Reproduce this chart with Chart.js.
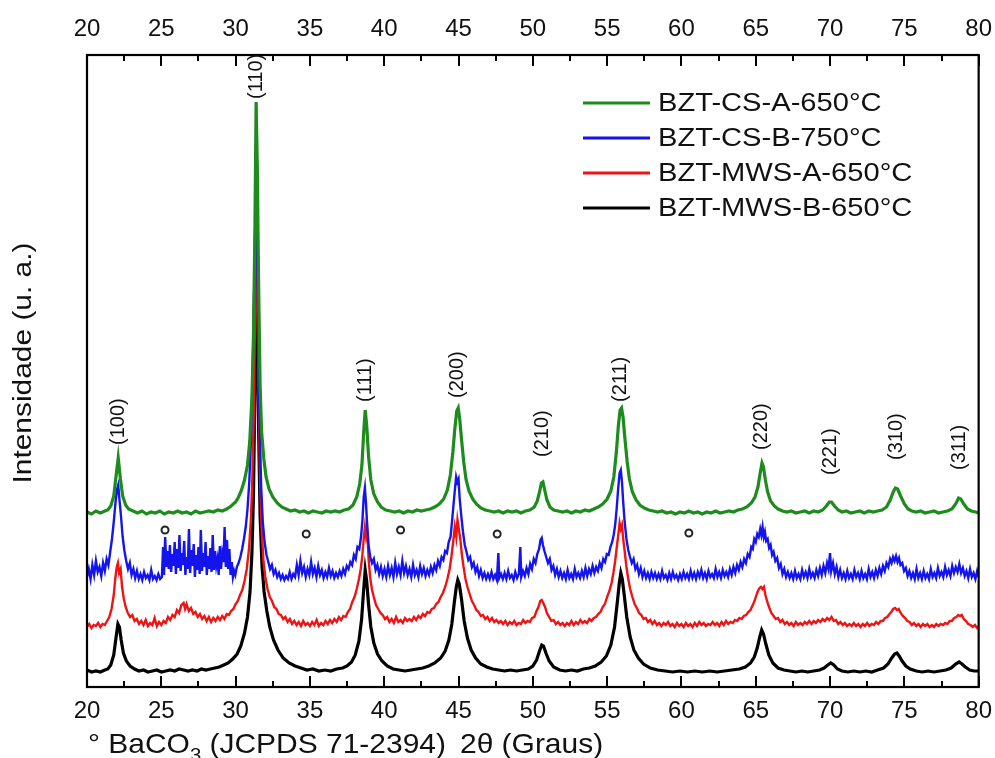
<!DOCTYPE html>
<html>
<head>
<meta charset="utf-8">
<script src="https://cdn.jsdelivr.net/npm/chart.js@4.4.0/dist/chart.umd.min.js"></script>
<style>
  html, body { margin: 0; padding: 0; background: #fff; }
  #wrap { width: 995px; height: 758px; }
</style>
</head>
<body>
<div id="wrap"><canvas id="xrd" width="995" height="758"></canvas></div>
<script>
// [2θ (deg), intensity (a.u.)] - patterns already shifted up so they stack
const csA650 = [
  [20.0,175],[20.3,173],[20.6,176],[20.9,174],[21.2,176],[21.4,177],[21.6,181],[21.8,191],[21.95,210],[22.1,229],
  [22.25,208],[22.4,191],[22.6,182],[22.8,178],[23.1,176],[23.4,174],[23.7,176],[24.0,173],[24.3,175],[24.6,174],
  [24.9,176],[25.2,173],[25.5,175],[25.8,174],[26.1,176],[26.4,174],[26.7,175],[27.0,173],[27.3,176],[27.6,174],
  [27.9,175],[28.2,176],[28.5,175],[28.8,177],[29.1,176],[29.4,178],[29.7,181],[30.0,185],[30.2,190],[30.4,197],
  [30.6,207],[30.8,222],[30.95,245],[31.1,290],[31.2,350],[31.3,460],[31.38,585],[31.46,520],[31.55,400],[31.65,300],
  [31.75,255],[31.9,228],[32.05,210],[32.25,198],[32.5,190],[32.8,184],[33.1,180],[33.4,178],[33.7,176],[34.0,177],
  [34.3,175],[34.6,176],[34.9,174],[35.2,176],[35.5,175],[35.8,174],[36.1,176],[36.4,175],[36.7,176],[37.0,175],
  [37.3,177],[37.6,178],[37.9,182],[38.15,190],[38.35,203],[38.5,222],[38.62,255],[38.72,277],[38.82,262],[38.95,230],
  [39.1,207],[39.3,193],[39.55,185],[39.8,180],[40.1,177],[40.4,176],[40.7,175],[41.0,176],[41.3,174],[41.6,176],
  [41.9,175],[42.2,177],[42.5,176],[42.8,177],[43.1,178],[43.4,180],[43.7,183],[44.0,188],[44.25,197],[44.45,212],
  [44.62,235],[44.75,258],[44.88,276],[44.98,279],[45.08,268],[45.2,248],[45.35,225],[45.5,208],[45.7,196],[45.95,188],
  [46.2,183],[46.5,179],[46.8,177],[47.1,176],[47.4,175],[47.7,176],[48.0,174],[48.3,176],[48.6,175],[48.9,176],
  [49.2,174],[49.5,176],[49.8,177],[50.1,180],[50.3,186],[50.45,195],[50.58,204],[50.68,205],[50.8,197],[50.95,187],
  [51.15,180],[51.4,177],[51.7,176],[52.0,175],[52.3,176],[52.6,174],[52.9,176],[53.2,175],[53.5,177],[53.8,176],
  [54.1,178],[54.4,180],[54.7,183],[55.0,188],[55.25,196],[55.45,210],[55.62,235],[55.75,260],[55.87,277],[55.97,279],
  [56.07,270],[56.2,248],[56.35,225],[56.5,208],[56.7,195],[56.95,187],[57.2,182],[57.5,179],[57.8,177],[58.1,176],
  [58.4,175],[58.7,176],[59.0,174],[59.3,175],[59.6,173],[59.9,175],[60.2,174],[60.5,176],[60.8,174],[61.1,175],
  [61.4,173],[61.7,175],[62.0,174],[62.3,176],[62.6,174],[62.9,175],[63.2,176],[63.5,175],[63.8,177],[64.1,178],
  [64.4,180],[64.7,184],[64.95,190],[65.15,200],[65.3,214],[65.42,224],[65.52,220],[65.65,207],[65.8,195],[66.0,186],
  [66.25,181],[66.5,178],[66.8,176],[67.1,175],[67.4,176],[67.7,174],[68.0,175],[68.3,176],[68.6,174],[68.9,176],
  [69.2,175],[69.5,177],[69.75,181],[69.95,185],[70.1,185],[70.3,181],[70.55,177],[70.8,175],[71.1,176],[71.4,174],
  [71.7,175],[72.0,176],[72.3,174],[72.6,176],[72.9,175],[73.2,176],[73.5,177],[73.8,180],[74.05,187],[74.25,195],
  [74.4,199],[74.55,198],[74.75,191],[75.0,183],[75.25,178],[75.5,176],[75.8,175],[76.1,176],[76.4,174],[76.7,175],
  [77.0,176],[77.3,174],[77.6,175],[77.9,176],[78.2,178],[78.45,183],[78.65,189],[78.8,188],[79.0,183],[79.25,178],
  [79.5,176],[79.8,175],[80.0,174]
];

const csB750 = [
  [20.0,110],[20.12,118],[20.24,108],[20.36,122],[20.48,112],[20.6,126],[20.72,115],[20.84,120],[20.96,111],[21.08,124],
  [21.2,116],[21.32,128],[21.44,122],[21.56,135],[21.68,148],[21.8,165],[21.92,185],[22.02,198],[22.1,202],[22.18,188],
  [22.28,172],[22.4,150],[22.52,136],[22.64,126],[22.76,118],[22.88,124],[23.0,112],[23.12,118],[23.24,109],[23.36,116],
  [23.48,108],[23.6,113],[23.72,107],[23.84,115],[23.96,109],[24.08,112],[24.2,107],[24.32,117],[24.44,108],[24.56,111],
  [24.68,107],[24.8,113],[24.92,108],[25.04,110],[25.12,140],[25.18,112],[25.26,150],[25.34,120],[25.42,136],[25.5,118],
  [25.58,142],[25.66,115],[25.74,133],[25.82,121],[25.9,145],[25.98,113],[26.06,138],[26.14,119],[26.22,152],[26.3,116],
  [26.38,134],[26.46,122],[26.54,146],[26.62,112],[26.7,130],[26.78,118],[26.86,158],[26.94,114],[27.02,137],[27.1,121],
  [27.18,143],[27.26,110],[27.34,132],[27.42,117],[27.5,140],[27.58,113],[27.66,157],[27.74,116],[27.82,134],[27.9,120],
  [27.98,145],[28.06,112],[28.14,131],[28.22,118],[28.3,139],[28.38,115],[28.46,152],[28.54,117],[28.62,136],[28.7,121],
  [28.78,128],[28.86,112],[28.94,141],[29.02,118],[29.1,133],[29.18,125],[29.26,160],[29.34,120],[29.42,147],[29.5,118],
  [29.58,138],[29.66,112],[29.74,125],[29.82,110],[29.9,116],[29.98,112],[30.08,120],[30.2,124],[30.32,130],[30.44,138],
  [30.56,148],[30.68,160],[30.8,178],[30.92,205],[31.04,250],[31.14,310],[31.24,390],[31.32,460],[31.38,490],[31.45,440],
  [31.53,350],[31.62,260],[31.72,200],[31.83,165],[31.95,145],[32.08,132],[32.2,125],[32.32,118],[32.44,122],[32.56,113],
  [32.68,117],[32.8,110],[32.92,114],[33.04,108],[33.16,112],[33.28,107],[33.4,111],[33.52,108],[33.64,115],[33.76,108],
  [33.88,113],[34.0,110],[34.12,122],[34.24,112],[34.36,126],[34.48,114],[34.6,120],[34.72,110],[34.84,118],[34.96,112],
  [35.08,125],[35.2,113],[35.32,119],[35.44,110],[35.56,121],[35.68,112],[35.8,117],[35.92,109],[36.04,115],[36.16,110],
  [36.28,119],[36.4,111],[36.52,116],[36.64,109],[36.76,114],[36.88,110],[37.0,116],[37.12,111],[37.24,118],[37.36,113],
  [37.48,121],[37.6,118],[37.72,125],[37.84,122],[37.96,132],[38.08,128],[38.2,140],[38.32,138],[38.44,150],[38.54,168],
  [38.62,190],[38.7,199],[38.78,182],[38.86,160],[38.96,140],[39.06,130],[39.18,124],[39.3,128],[39.42,117],[39.54,122],
  [39.66,113],[39.78,120],[39.9,111],[40.02,118],[40.14,110],[40.26,121],[40.38,112],[40.5,119],[40.62,110],[40.74,124],
  [40.86,113],[40.98,120],[41.1,112],[41.22,126],[41.34,114],[41.46,121],[41.58,112],[41.7,118],[41.82,110],[41.94,122],
  [42.06,112],[42.18,117],[42.3,110],[42.42,121],[42.54,113],[42.66,119],[42.78,111],[42.9,117],[43.02,112],[43.14,120],
  [43.26,114],[43.38,122],[43.5,117],[43.62,126],[43.74,121],[43.86,130],[43.98,127],[44.1,136],[44.22,134],[44.34,145],
  [44.46,150],[44.56,165],[44.66,182],[44.76,198],[44.84,210],[44.92,205],[45.0,208],[45.08,188],[45.18,172],[45.3,155],
  [45.42,142],[45.54,135],[45.66,127],[45.78,130],[45.9,120],[46.02,124],[46.14,115],[46.26,120],[46.38,111],[46.5,117],
  [46.62,109],[46.74,114],[46.86,108],[46.98,113],[47.1,108],[47.22,115],[47.34,108],[47.46,112],[47.58,107],[47.68,134],
  [47.74,109],[47.86,113],[47.98,108],[48.1,114],[48.22,108],[48.34,116],[48.46,109],[48.58,112],[48.7,107],[48.82,115],
  [48.94,109],[49.06,113],[49.16,140],[49.22,110],[49.34,116],[49.46,111],[49.58,119],[49.7,113],[49.82,123],[49.94,118],
  [50.06,128],[50.18,124],[50.3,133],[50.42,138],[50.52,147],[50.6,149],[50.68,142],[50.78,136],[50.9,130],[51.02,124],
  [51.14,128],[51.26,117],[51.38,121],[51.5,112],[51.62,118],[51.74,110],[51.86,116],[51.98,109],[52.1,114],[52.22,108],
  [52.34,117],[52.46,109],[52.58,113],[52.7,108],[52.82,118],[52.94,110],[53.06,114],[53.18,109],[53.3,116],[53.42,110],
  [53.54,119],[53.66,111],[53.78,118],[53.9,113],[54.02,121],[54.14,114],[54.26,120],[54.38,116],[54.5,124],[54.62,119],
  [54.74,128],[54.86,125],[54.98,133],[55.1,132],[55.22,140],[55.34,145],[55.44,152],[55.54,162],[55.64,178],[55.74,198],
  [55.84,214],[55.92,217],[56.0,205],[56.08,185],[56.18,165],[56.3,148],[56.42,137],[56.54,130],[56.66,124],[56.78,128],
  [56.9,118],[57.02,122],[57.14,113],[57.26,119],[57.38,110],[57.5,116],[57.62,109],[57.74,114],[57.86,108],[57.98,115],
  [58.1,109],[58.22,114],[58.34,108],[58.46,113],[58.58,108],[58.7,116],[58.82,109],[58.94,112],[59.06,107],[59.18,114],
  [59.3,108],[59.42,115],[59.54,109],[59.66,112],[59.78,107],[59.9,113],[60.02,108],[60.14,115],[60.26,109],[60.38,113],
  [60.5,108],[60.62,116],[60.74,109],[60.86,114],[60.98,108],[61.1,115],[61.22,110],[61.34,117],[61.46,109],[61.58,114],
  [61.7,108],[61.82,116],[61.94,110],[62.06,113],[62.18,109],[62.3,118],[62.42,110],[62.54,115],[62.66,109],[62.78,117],
  [62.9,111],[63.02,115],[63.14,110],[63.26,118],[63.38,112],[63.5,120],[63.62,114],[63.74,122],[63.86,117],[63.98,125],
  [64.1,120],[64.22,128],[64.34,124],[64.46,133],[64.58,130],[64.7,140],[64.8,138],[64.9,148],[65.0,145],[65.1,153],
  [65.2,150],[65.3,158],[65.38,152],[65.46,160],[65.54,150],[65.62,155],[65.7,146],[65.8,148],[65.9,139],[66.0,142],
  [66.1,132],[66.2,135],[66.32,126],[66.44,129],[66.56,119],[66.68,123],[66.8,113],[66.92,118],[67.04,110],[67.16,115],
  [67.28,109],[67.4,114],[67.52,108],[67.64,116],[67.76,109],[67.88,113],[68.0,108],[68.12,117],[68.24,110],[68.36,115],
  [68.48,109],[68.6,118],[68.72,110],[68.84,114],[68.96,109],[69.08,117],[69.2,111],[69.32,119],[69.44,112],[69.56,121],
  [69.68,114],[69.8,124],[69.9,118],[70.0,134],[70.08,116],[70.2,124],[70.32,113],[70.44,120],[70.56,110],[70.68,117],
  [70.8,109],[70.92,114],[71.04,108],[71.16,116],[71.28,109],[71.4,113],[71.52,108],[71.64,117],[71.76,110],[71.88,114],
  [72.0,108],[72.12,116],[72.24,109],[72.36,113],[72.48,108],[72.6,118],[72.72,110],[72.84,115],[72.96,109],[73.08,117],
  [73.2,111],[73.32,119],[73.44,113],[73.56,121],[73.68,116],[73.8,124],[73.92,120],[74.04,128],[74.14,124],[74.24,130],
  [74.34,126],[74.44,131],[74.54,125],[74.64,129],[74.74,122],[74.86,124],[74.98,116],[75.1,119],[75.22,111],[75.34,116],
  [75.46,109],[75.58,114],[75.7,108],[75.82,118],[75.94,109],[76.06,114],[76.18,108],[76.3,116],[76.42,109],[76.54,113],
  [76.66,108],[76.78,118],[76.9,110],[77.02,114],[77.14,109],[77.26,119],[77.38,111],[77.5,115],[77.62,110],[77.74,120],
  [77.86,112],[77.98,117],[78.1,111],[78.22,121],[78.34,114],[78.46,120],[78.58,115],[78.7,123],[78.82,114],[78.94,119],
  [79.06,111],[79.18,116],[79.3,109],[79.42,118],[79.54,110],[79.66,114],[79.78,108],[79.9,116],[80.0,110]
];

const mwsA650 = [
  [20.0,60],[20.15,63],[20.3,59],[20.45,62],[20.6,61],[20.75,64],[20.9,60],[21.05,63],[21.2,62],[21.35,66],
  [21.5,70],[21.65,78],[21.8,92],[21.9,108],[22.0,120],[22.08,124],[22.16,114],[22.26,118],[22.36,100],[22.48,88],
  [22.6,80],[22.75,74],[22.9,70],[23.05,72],[23.2,66],[23.35,68],[23.5,63],[23.65,66],[23.8,62],[23.95,67],
  [24.1,61],[24.25,64],[24.4,62],[24.55,69],[24.7,61],[24.85,65],[25.0,62],[25.15,66],[25.3,64],[25.45,70],
  [25.6,67],[25.75,72],[25.9,70],[26.05,77],[26.2,74],[26.35,82],[26.5,84],[26.6,78],[26.7,83],[26.85,76],
  [27.0,79],[27.15,73],[27.3,75],[27.45,70],[27.6,73],[27.75,68],[27.9,71],[28.05,66],[28.2,70],[28.35,65],
  [28.5,69],[28.65,66],[28.8,70],[28.95,67],[29.1,71],[29.25,68],[29.4,73],[29.55,72],[29.7,76],[29.85,78],
  [30.0,83],[30.15,86],[30.3,92],[30.45,97],[30.6,106],[30.75,118],[30.9,138],[31.02,165],[31.12,205],[31.22,270],
  [31.3,360],[31.38,460],[31.46,395],[31.55,290],[31.65,205],[31.76,155],[31.88,125],[32.0,110],[32.15,98],[32.3,90],
  [32.45,86],[32.6,80],[32.75,78],[32.9,73],[33.05,72],[33.2,68],[33.35,70],[33.5,65],[33.65,68],[33.8,63],
  [33.95,66],[34.1,62],[34.25,65],[34.4,61],[34.55,66],[34.7,62],[34.85,64],[35.0,61],[35.15,65],[35.3,62],
  [35.45,67],[35.6,61],[35.75,64],[35.9,62],[36.05,66],[36.2,63],[36.35,67],[36.5,64],[36.65,68],[36.8,65],
  [36.95,70],[37.1,67],[37.25,71],[37.4,70],[37.55,75],[37.7,78],[37.85,85],[38.0,90],[38.15,98],[38.3,108],
  [38.42,118],[38.52,130],[38.62,148],[38.7,160],[38.78,150],[38.86,156],[38.95,128],[39.05,110],[39.18,97],[39.3,90],
  [39.45,82],[39.6,78],[39.75,74],[39.9,72],[40.05,68],[40.2,70],[40.35,65],[40.5,68],[40.65,64],[40.8,70],
  [40.95,65],[41.1,67],[41.25,64],[41.4,69],[41.55,66],[41.7,68],[41.85,66],[42.0,70],[42.15,67],[42.3,71],
  [42.45,69],[42.6,73],[42.75,71],[42.9,75],[43.05,74],[43.2,78],[43.35,79],[43.5,83],[43.65,85],[43.8,90],
  [43.95,94],[44.1,100],[44.25,108],[44.4,118],[44.52,130],[44.64,145],[44.75,160],[44.85,150],[44.93,167],[45.02,158],
  [45.12,148],[45.22,133],[45.34,120],[45.47,108],[45.6,100],[45.75,93],[45.9,86],[46.05,82],[46.2,77],[46.35,75],
  [46.5,71],[46.65,72],[46.8,68],[46.95,70],[47.1,66],[47.25,69],[47.4,65],[47.55,67],[47.7,64],[47.85,66],
  [48.0,63],[48.15,66],[48.3,62],[48.45,65],[48.6,63],[48.75,66],[48.9,62],[49.05,64],[49.2,63],[49.35,67],
  [49.5,64],[49.65,66],[49.8,65],[49.95,69],[50.1,70],[50.25,76],[50.38,80],[50.5,86],[50.6,87],[50.7,84],
  [50.82,80],[50.95,74],[51.1,70],[51.25,66],[51.4,67],[51.55,63],[51.7,65],[51.85,62],[52.0,64],[52.15,61],
  [52.3,64],[52.45,62],[52.6,66],[52.75,62],[52.9,65],[53.05,63],[53.2,67],[53.35,64],[53.5,66],[53.65,64],
  [53.8,68],[53.95,66],[54.1,69],[54.25,70],[54.4,73],[54.55,75],[54.7,80],[54.85,83],[55.0,90],[55.15,96],
  [55.3,104],[55.42,114],[55.54,126],[55.65,140],[55.75,152],[55.84,164],[55.92,158],[56.0,162],[56.08,148],[56.18,136],
  [56.3,120],[56.42,108],[56.55,98],[56.7,90],[56.85,83],[57.0,79],[57.15,74],[57.3,72],[57.45,68],[57.6,69],
  [57.75,65],[57.9,67],[58.05,63],[58.2,66],[58.35,62],[58.5,64],[58.65,61],[58.8,64],[58.95,62],[59.1,65],
  [59.25,61],[59.4,63],[59.55,60],[59.7,64],[59.85,61],[60.0,63],[60.15,60],[60.3,64],[60.45,61],[60.6,63],
  [60.75,60],[60.9,64],[61.05,61],[61.2,65],[61.35,62],[61.5,64],[61.65,61],[61.8,63],[61.95,62],[62.1,65],
  [62.25,62],[62.4,64],[62.55,61],[62.7,65],[62.85,62],[63.0,66],[63.15,63],[63.3,65],[63.45,64],[63.6,67],
  [63.75,66],[63.9,69],[64.05,68],[64.2,71],[64.35,72],[64.5,75],[64.65,77],[64.8,82],[64.92,86],[65.05,92],
  [65.15,96],[65.25,99],[65.35,100],[65.45,98],[65.55,100],[65.65,92],[65.78,85],[65.92,79],[66.05,74],[66.2,71],
  [66.35,68],[66.5,69],[66.65,65],[66.8,67],[66.95,63],[67.1,65],[67.25,62],[67.4,64],[67.55,61],[67.7,65],
  [67.85,62],[68.0,64],[68.15,62],[68.3,65],[68.45,63],[68.6,66],[68.75,63],[68.9,66],[69.05,64],[69.2,67],
  [69.35,65],[69.5,68],[69.65,66],[69.8,69],[69.95,67],[70.1,70],[70.25,66],[70.4,67],[70.55,63],[70.7,65],
  [70.85,62],[71.0,64],[71.15,61],[71.3,63],[71.45,61],[71.6,64],[71.75,61],[71.9,63],[72.05,60],[72.2,63],
  [72.35,61],[72.5,64],[72.65,61],[72.8,63],[72.95,62],[73.1,65],[73.25,63],[73.4,66],[73.55,66],[73.7,69],
  [73.85,70],[74.0,73],[74.12,75],[74.25,78],[74.38,79],[74.5,77],[74.62,78],[74.75,74],[74.9,71],[75.05,69],
  [75.2,66],[75.35,65],[75.5,62],[75.65,64],[75.8,61],[75.95,63],[76.1,60],[76.25,63],[76.4,61],[76.55,63],
  [76.7,60],[76.85,62],[77.0,60],[77.15,63],[77.3,61],[77.45,63],[77.6,62],[77.75,64],[77.9,63],[78.05,66],
  [78.2,66],[78.35,69],[78.5,70],[78.62,72],[78.74,71],[78.86,72],[79.0,68],[79.15,66],[79.3,63],[79.45,62],
  [79.6,60],[79.75,62],[79.9,59],[80.0,61]
];

const mwsB650 = [
  [20.0,17],[20.3,15],[20.6,16],[20.9,15],[21.2,17],[21.4,18],[21.6,22],[21.8,32],[21.95,49],[22.08,63],
  [22.18,60],[22.3,47],[22.45,34],[22.65,26],[22.9,21],[23.2,18],[23.5,16],[23.8,17],[24.1,15],[24.4,16],
  [24.7,17],[25.0,15],[25.3,16],[25.6,17],[25.9,16],[26.2,18],[26.5,17],[26.8,16],[27.1,17],[27.4,16],
  [27.7,18],[28.0,17],[28.3,18],[28.6,19],[28.9,20],[29.2,22],[29.5,24],[29.8,28],[30.1,33],[30.35,41],
  [30.6,54],[30.8,70],[30.97,95],[31.1,135],[31.2,190],[31.3,300],[31.38,425],[31.46,370],[31.55,255],[31.65,170],
  [31.78,120],[31.92,95],[32.1,76],[32.3,60],[32.55,47],[32.85,37],[33.2,29],[33.6,24],[34.0,21],[34.4,19],
  [34.8,17],[35.2,18],[35.6,16],[36.0,17],[36.4,16],[36.8,18],[37.2,19],[37.5,21],[37.8,25],[38.05,32],
  [38.3,46],[38.48,68],[38.62,98],[38.72,117],[38.82,106],[38.95,82],[39.1,60],[39.3,44],[39.55,33],[39.85,26],
  [40.2,21],[40.6,18],[41.0,17],[41.4,16],[41.8,17],[42.2,18],[42.6,19],[43.0,21],[43.4,24],[43.8,29],
  [44.1,36],[44.35,47],[44.55,63],[44.72,85],[44.85,100],[44.95,107],[45.05,103],[45.2,88],[45.38,66],[45.6,49],
  [45.85,37],[46.15,29],[46.5,23],[46.9,20],[47.3,18],[47.7,17],[48.1,16],[48.5,17],[48.9,16],[49.3,17],
  [49.7,18],[50.0,21],[50.25,27],[50.45,36],[50.6,42],[50.72,41],[50.88,34],[51.1,26],[51.4,20],[51.8,17],
  [52.2,16],[52.6,17],[53.0,16],[53.4,18],[53.8,19],[54.2,21],[54.6,25],[54.95,31],[55.25,42],[55.5,60],
  [55.68,84],[55.82,104],[55.92,114],[56.02,108],[56.15,92],[56.32,70],[56.55,50],[56.8,37],[57.1,29],[57.45,23],
  [57.9,19],[58.4,17],[58.9,16],[59.4,15],[59.9,16],[60.4,15],[60.9,16],[61.4,15],[61.9,16],[62.4,15],
  [62.9,16],[63.4,17],[63.9,18],[64.3,20],[64.65,24],[64.9,30],[65.1,39],[65.27,50],[65.4,57],[65.52,53],
  [65.68,43],[65.88,32],[66.15,24],[66.5,19],[66.9,17],[67.3,16],[67.7,15],[68.1,16],[68.5,15],[68.9,16],
  [69.3,17],[69.6,19],[69.85,22],[70.05,24],[70.25,22],[70.5,18],[70.8,16],[71.2,15],[71.6,16],[72.0,15],
  [72.4,16],[72.8,15],[73.2,17],[73.6,19],[73.9,23],[74.15,29],[74.35,33],[74.5,34],[74.65,31],[74.85,26],
  [75.1,21],[75.4,18],[75.8,16],[76.2,15],[76.6,16],[77.0,15],[77.4,16],[77.8,17],[78.15,19],[78.45,23],
  [78.68,25],[78.88,23],[79.1,20],[79.4,17],[79.7,16],[80.0,16]
];

const seriesNames = ['BZT-CS-A-650°C', 'BZT-CS-B-750°C', 'BZT-MWS-A-650°C', 'BZT-MWS-B-650°C'];
const seriesColors = ['#1d8c1d', '#1414ee', '#ee1414', '#000000'];

// BaCO3 reflections (JCPDS 71-2394) marked over the CS-B pattern
const baco3Pos = [25.25, 34.75, 41.1, 47.6, 60.5];
const baco3Y = [157, 153, 157, 153, 154];

// perovskite reflections: index, 2θ, height where the label starts
const hklNames = ['(100)', '(110)', '(111)', '(200)', '(210)', '(211)', '(220)', '(221)', '(310)', '(311)'];
const hklPos = [22.1, 31.38, 38.72, 44.95, 50.62, 55.92, 65.42, 70.05, 74.45, 78.7];
const hklY = [242, 588, 285, 289, 230, 285, 237, 212, 227, 217];

const FONT = '"Liberation Sans", Arial, Helvetica, sans-serif';

const toXY = pts => pts.map(p => ({ x: p[0], y: p[1] }));
const patterns = [csA650, csB750, mwsA650, mwsB650];

const datasets = [{
  label: 'BaCO3',
  data: baco3Pos.map((x, i) => ({ x: x, y: baco3Y[i] })),
  showLine: false,
  pointRadius: 3.5,
  pointBorderWidth: 2,
  pointBorderColor: '#222',
  pointBackgroundColor: '#fff',
  inLegend: false
}];
patterns.forEach((pts, i) => {
  datasets.push({
    label: seriesNames[i],
    data: toXY(pts),
    borderColor: seriesColors[i],
    borderWidth: i === 0 || i === 3 ? 3.2 : 2.4,
    pointRadius: 0,
    tension: 0,
    inLegend: true
  });
});

// text a little wider than the stock face, stretched along its own direction
function wideText(ctx, text, x, y, sx) {
  ctx.save();
  ctx.translate(x, y);
  ctx.scale(sx, 1);
  ctx.fillText(text, 0, 0);
  ctx.restore();
  return ctx.measureText(text).width * sx;
}

// box round the plot with inward ticks top and bottom
const frame = {
  id: 'frame',
  afterDatasetsDraw(chart) {
    const { ctx, chartArea: a } = chart;
    const x = chart.scales.x;
    ctx.save();
    ctx.strokeStyle = '#000';
    ctx.lineWidth = 2.2;
    ctx.strokeRect(a.left, a.top, a.right - a.left, a.bottom - a.top);
    ctx.lineWidth = 2;
    ctx.beginPath();
    x.ticks.forEach((t, i) => {
      const marks = [[t.value, 11]];
      if (i < x.ticks.length - 1) marks.push([t.value + 2.5, 6]);
      marks.forEach(([v, len]) => {
        const px = Math.round(x.getPixelForValue(v));
        ctx.moveTo(px, a.bottom); ctx.lineTo(px, a.bottom - len);
        ctx.moveTo(px, a.top); ctx.lineTo(px, a.top + len);
      });
    });
    ctx.stroke();
    ctx.restore();
  }
};

// miller indices, legend, axis captions
const annotations = {
  id: 'annotations',
  afterDraw(chart) {
    const { ctx, chartArea: a, scales } = chart;
    ctx.save();
    ctx.fillStyle = '#111';

    ctx.font = '20px ' + FONT;
    ctx.textAlign = 'left';
    ctx.textBaseline = 'middle';
    hklNames.forEach((name, i) => {
      ctx.save();
      ctx.translate(scales.x.getPixelForValue(hklPos[i]), scales.y.getPixelForValue(hklY[i]));
      ctx.rotate(-Math.PI / 2);
      ctx.fillText(name, 0, 0);
      ctx.restore();
    });

    // legend
    ctx.font = '26px ' + FONT;
    chart.data.datasets.filter(d => d.inLegend).forEach((d, i) => {
      const y = 103 + i * 35;
      ctx.strokeStyle = d.borderColor;
      ctx.lineWidth = 3;
      ctx.beginPath();
      ctx.moveTo(583, y);
      ctx.lineTo(650, y);
      ctx.stroke();
      wideText(ctx, d.label, 658, y + 1, 1.12);
    });

    // y title
    ctx.save();
    ctx.translate(24, (a.top + a.bottom) / 2 - 8);
    ctx.rotate(-Math.PI / 2);
    ctx.font = '26px ' + FONT;
    const tw = ctx.measureText('Intensidade (u. a.)').width * 1.15;
    wideText(ctx, 'Intensidade (u. a.)', -tw / 2, 0, 1.15);
    ctx.restore();

    // x caption with subscript
    ctx.textBaseline = 'alphabetic';
    let cx = 88;
    const base = 753;
    ctx.font = '28px ' + FONT;
    cx += wideText(ctx, '° BaCO', cx, base, 1.07);
    ctx.font = '19px ' + FONT;
    cx += wideText(ctx, '3', cx, base + 8, 1.07);
    ctx.font = '28px ' + FONT;
    cx += wideText(ctx, ' (JCPDS 71-2394)', cx, base, 1.07) + 14;
    wideText(ctx, '2θ (Graus)', cx, base, 1.07);
    ctx.restore();
  }
};

const tickFont = { family: FONT, size: 24 };

new Chart(document.getElementById('xrd').getContext('2d'), {
  type: 'line',
  data: { datasets: datasets },
  options: {
    responsive: false,
    animation: false,
    events: [],
    layout: { padding: { left: 0, right: 7, top: 0, bottom: 0 } },
    plugins: { legend: { display: false }, tooltip: { enabled: false } },
    scales: {
      x: {
        type: 'linear',
        position: 'bottom',
        min: 20,
        max: 80,
        ticks: { stepSize: 5, font: tickFont, color: '#111', padding: 2, maxRotation: 0 },
        grid: { display: false },
        border: { display: false },
        afterFit: s => { s.height = 71; }
      },
      xTop: {
        type: 'linear',
        position: 'top',
        min: 20,
        max: 80,
        ticks: { stepSize: 5, font: tickFont, color: '#111', padding: 3, maxRotation: 0 },
        grid: { display: false },
        border: { display: false },
        afterFit: s => { s.height = 55; }
      },
      y: {
        min: 0,
        max: 632,
        ticks: { display: false },
        grid: { display: false },
        border: { display: false },
        afterFit: s => { s.width = 87; }
      }
    }
  },
  plugins: [frame, annotations]
});
</script>
</body>
</html>
